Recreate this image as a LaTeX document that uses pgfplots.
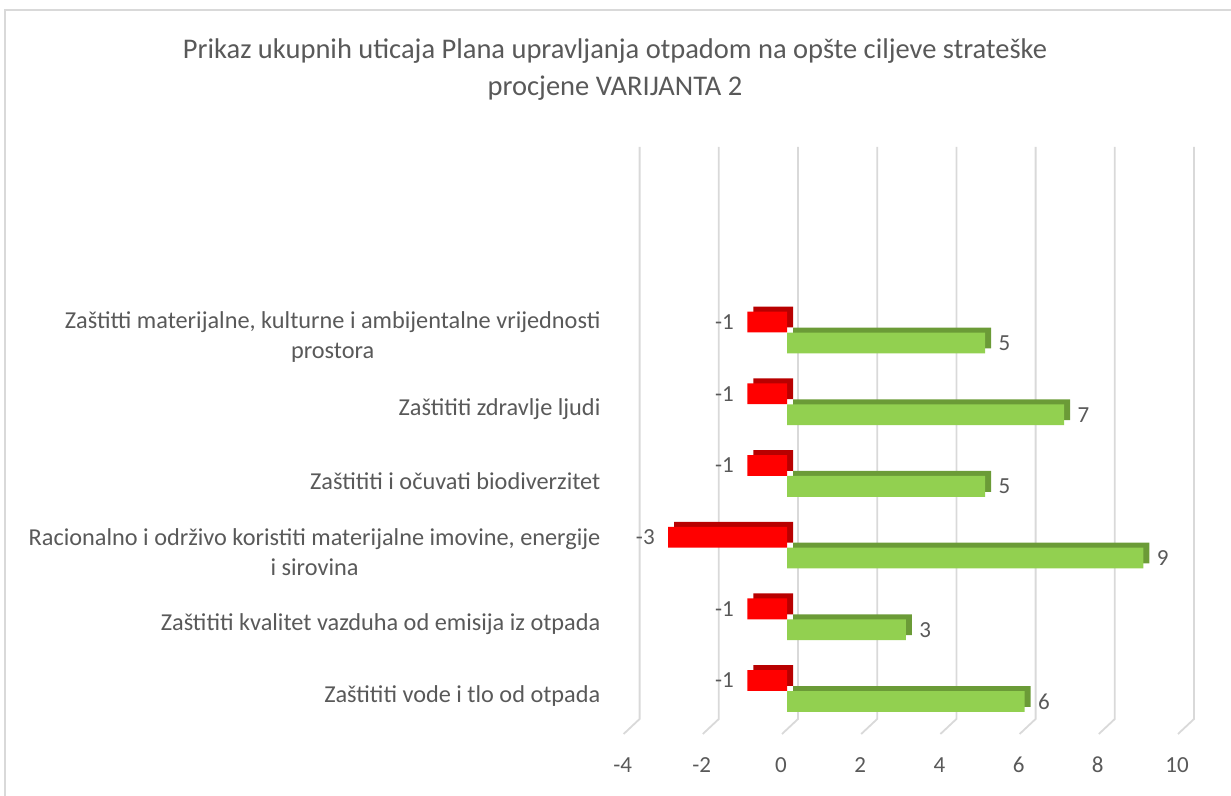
\documentclass[border=0pt]{standalone}
\usepackage{fontspec}
\setmainfont{Carlito}
\usepackage{pgfplots}
\pgfplotsset{compat=1.18,/pgf/number format/assume math mode=true}
\definecolor{txt}{HTML}{595959}
\definecolor{gridgray}{HTML}{D9D9D9}
\definecolor{barred}{HTML}{FF0000}
\definecolor{barredtop}{HTML}{B80000}
\definecolor{bargreen}{HTML}{92D050}
\definecolor{bargreentop}{HTML}{6B9B37}

\begin{document}
\begin{tikzpicture}
\path[use as bounding box] (0bp,0bp) rectangle (1231bp,796bp);
\draw[gridgray,line width=1.5bp] (5bp,0bp) -- (5bp,786bp) -- (1231bp,786bp);
\node[txt,align=center,font=\fontsize{28.5bp}{37bp}\selectfont] at (615bp,726bp)
  {Prikaz ukupnih uticaja Plana upravljanja otpadom na opšte ciljeve strateške\\procjene VARIJANTA 2};
\begin{axis}[at={(628.6bp,77bp)},anchor=south west,scale only axis,
  width=554.4bp,height=572bp,
  xbar,xmin=-4,xmax=10,ymin=0.61,ymax=8.587,
  bar width=0.29,
  xtick={-4,-2,...,10},ytick={1,...,6},
  yticklabels={Zaštititi vode i tlo od otpada,
    Zaštititi kvalitet vazduha od emisija iz otpada,
    {Racionalno i održivo koristiti materijalne imovine, energije\\i sirovina},
    Zaštititi i očuvati biodiverzitet,
    Zaštititi zdravlje ljudi,
    {Zaštitti materijalne, kulturne i ambijentalne vrijednosti\\prostora}},
  axis line style={draw=none},major tick length=0pt,
  xticklabel style={txt,font=\fontsize{23bp}{29bp}\selectfont,anchor=center,yshift=-46bp,xshift=-6bp},
  yticklabel style={txt,font=\fontsize{24.3bp}{30bp}\selectfont,anchor=east,align=center,inner sep=0pt,xshift=-28bp,yshift=-5bp},
  nodes near coords,
  every node near coord/.append style={txt,font=\fontsize{23bp}{28bp}\selectfont},
  clip=false]
\pgfplotsinvokeforeach{-4,-2,...,10}{
  \draw[gridgray,line width=1.8bp] ([xshift=11bp]axis cs:#1,8.587) -- ([xshift=11bp]axis cs:#1,0.61) -- ([xshift=-5bp,yshift=-15bp]axis cs:#1,0.61);
}
\addplot[draw=none,fill=barred,bar shift=0.146,
  preaction={fill=barredtop,transform canvas={shift={(6bp,5bp)}}},
  every node near coord/.append style={anchor=east,xshift=-10bp}]
  coordinates {(-1,1) (-1,2) (-3,3) (-1,4) (-1,5) (-1,6)};
\addplot[draw=none,fill=bargreen,bar shift=-0.146,
  preaction={fill=bargreentop,transform canvas={shift={(6bp,5bp)}}},
  every node near coord/.append style={anchor=west,xshift=10bp}]
  coordinates {(6,1) (3,2) (9,3) (5,4) (7,5) (5,6)};
\end{axis}
\end{tikzpicture}
\end{document}
